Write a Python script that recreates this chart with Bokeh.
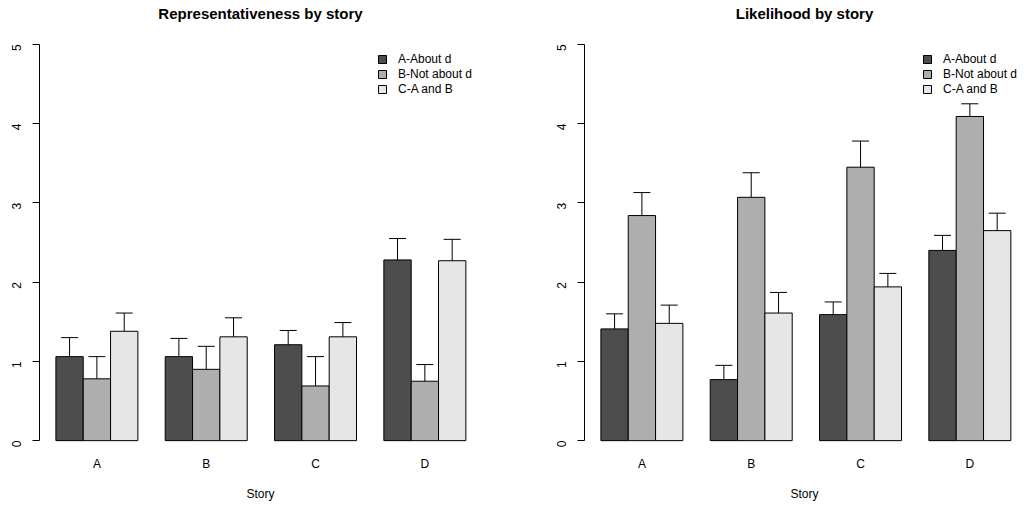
import numpy as np
from bokeh.plotting import figure
from bokeh.models import (ColumnDataSource, Whisker, TeeHead, FixedTicker, Range1d,
                          Legend, LegendItem)
from bokeh.layouts import row
from bokeh.embed import file_html
from bokeh.resources import INLINE

stories = ["A", "B", "C", "D"]
series = ["A-About d", "B-Not about d", "C-A and B"]
colors = ["#4D4D4D", "#AEAEAE", "#E6E6E6"]

# Representativeness
rep_about = [1.06, 1.06, 1.21, 2.28]
rep_about_lo = [0.82, 0.84, 1.02, 2.02]
rep_about_hi = [1.30, 1.29, 1.39, 2.55]
rep_not = [0.78, 0.90, 0.69, 0.75]
rep_not_lo = [0.49, 0.60, 0.31, 0.53]
rep_not_hi = [1.06, 1.19, 1.06, 0.96]
rep_both = [1.38, 1.31, 1.31, 2.27]
rep_both_lo = [1.16, 1.08, 1.14, 2.00]
rep_both_hi = [1.61, 1.55, 1.49, 2.54]

# Likelihood
lik_about = [1.41, 0.77, 1.59, 2.40]
lik_about_lo = [1.22, 0.58, 1.43, 2.20]
lik_about_hi = [1.60, 0.95, 1.75, 2.59]
lik_not = [2.84, 3.07, 3.45, 4.09]
lik_not_lo = [2.55, 2.77, 3.12, 3.92]
lik_not_hi = [3.13, 3.38, 3.78, 4.25]
lik_both = [1.48, 1.61, 1.94, 2.65]
lik_both_lo = [1.25, 1.35, 1.76, 2.44]
lik_both_hi = [1.71, 1.87, 2.11, 2.87]

yticks = [0, 1, 2, 3, 4, 5]
FONT = "Liberation Sans"
H = 505
TOP, BOTTOM = 28, 49
FRAME_H = H - TOP - BOTTOM


def panel(title, vals, los, his, width, border_left, border_right, x_end):
    p = figure(width=width, height=H, output_backend="svg", toolbar_location=None,
               x_range=Range1d(0.4, x_end), y_range=Range1d(-0.2, 5.2),
               min_border_left=border_left, min_border_right=border_right,
               min_border_top=TOP, min_border_bottom=BOTTOM, title=title)
    p.title.align = "center"
    p.title.vertical_align = "top"
    p.title.text_font = FONT
    p.title.text_font_size = "15px"
    p.title.text_font_style = "bold"
    p.title.text_color = "black"
    p.title.standoff = 9
    p.outline_line_color = None
    p.xgrid.visible = False
    p.ygrid.visible = False
    renderers = []
    for si, (v, lo, hi) in enumerate(zip(vals, los, his)):
        xs = [gi * 4 + si + 1.5 for gi in range(len(stories))]
        src = ColumnDataSource(dict(x=xs, top=v, lo=lo, hi=hi))
        r = p.vbar(x="x", top="top", bottom=0, width=1.0, source=src,
                   fill_color=colors[si], line_color="black", line_width=1)
        renderers.append(r)
        w = Whisker(base="x", lower="lo", upper="hi", source=src, dimension="height",
                    line_color="black", line_width=1,
                    upper_head=TeeHead(size=17, line_color="black", line_width=1),
                    lower_head=TeeHead(size=17, line_color="black", line_width=1))
        p.add_layout(w)

    # y axis
    ya = p.yaxis[0]
    ya.ticker = FixedTicker(ticks=yticks)
    ya.bounds = (0, 5)
    ya.minor_tick_line_color = None
    ya.major_tick_in = 0
    ya.major_tick_out = 7
    ya.major_label_orientation = np.pi / 2
    ya.major_label_standoff = 16
    ya.major_label_text_font = FONT
    ya.major_label_text_font_size = "12px"
    ya.major_label_text_color = "black"
    ya.axis_line_color = "black"
    ya.major_tick_line_color = "black"

    # x axis
    xa = p.xaxis[0]
    centers = [gi * 4 + 2.5 for gi in range(len(stories))]
    xa.ticker = FixedTicker(ticks=centers)
    xa.major_label_overrides = {c: s for c, s in zip(centers, stories)}
    xa.axis_line_color = None
    xa.major_tick_line_color = None
    xa.minor_tick_line_color = None
    xa.major_tick_out = 0
    xa.major_tick_in = 0
    xa.major_label_standoff = 0
    xa.major_label_text_font = FONT
    xa.major_label_text_font_size = "12px"
    xa.major_label_text_color = "black"
    xa.axis_label = "Story"
    xa.axis_label_text_font = FONT
    xa.axis_label_text_font_size = "12px"
    xa.axis_label_text_font_style = "normal"
    xa.axis_label_text_color = "black"
    xa.axis_label_standoff = 13

    legend = Legend(items=[LegendItem(label=s, renderers=[r]) for s, r in zip(series, renderers)],
                    location=(338, FRAME_H - 24 - 44), orientation="vertical",
                    glyph_width=10, glyph_height=10, label_height=12, spacing=1,
                    label_standoff=11, padding=0, margin=0,
                    border_line_color=None, background_fill_alpha=0,
                    label_text_font=FONT, label_text_font_size="12px",
                    label_text_color="black")
    p.add_layout(legend)
    return p


p1 = panel("Representativeness by story", [rep_about, rep_not, rep_both],
           [rep_about_lo, rep_not_lo, rep_both_lo], [rep_about_hi, rep_not_hi, rep_both_hi],
           512, 39, 31, 0.4 + 442 / 27.33)
p2 = panel("Likelihood by story", [lik_about, lik_not, lik_both],
           [lik_about_lo, lik_not_lo, lik_both_lo], [lik_about_hi, lik_not_hi, lik_both_hi],
           512, 72, 0, 0.4 + 440 / 27.33)

layout = row(p1, p2)
open("out.html", "w").write(file_html(layout, INLINE))
